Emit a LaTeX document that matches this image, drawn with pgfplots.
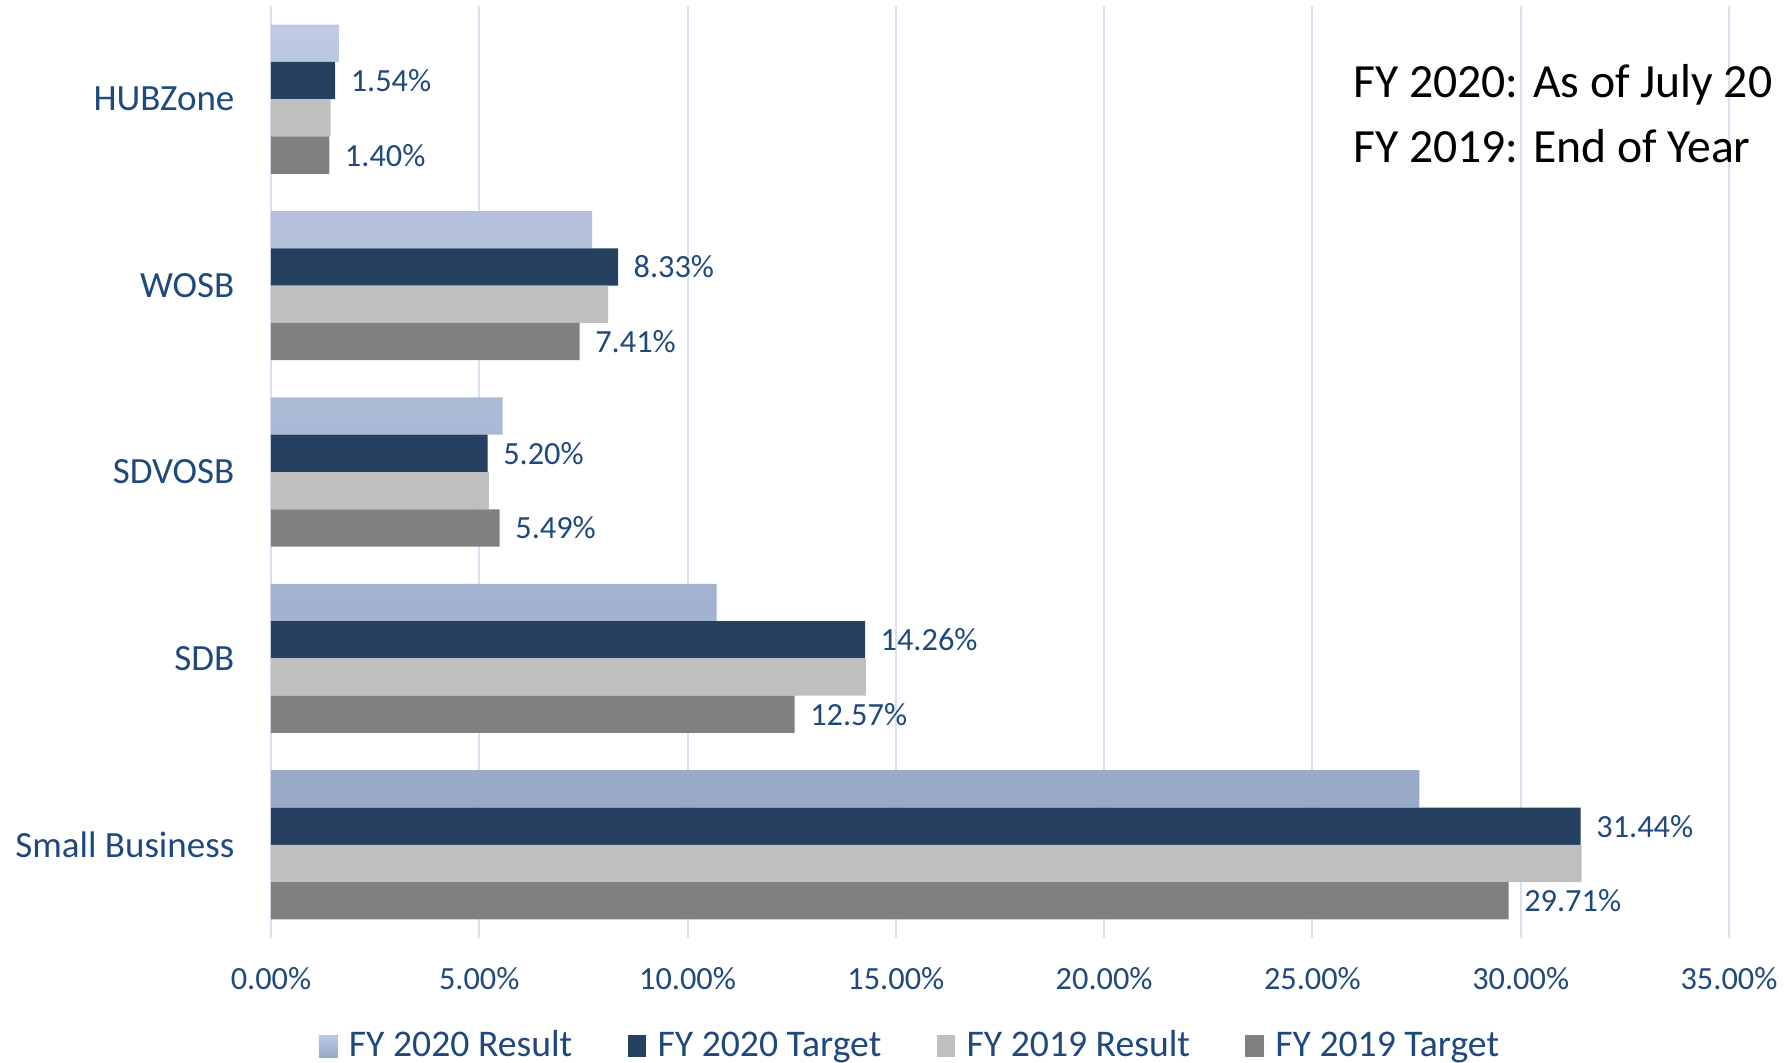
\documentclass[border=0pt]{standalone}
\usepackage{pgfplots}
\pgfplotsset{compat=1.18}
\usepackage{fontspec}
\setmainfont{Carlito}
\definecolor{restop}{RGB}{190,201,227}
\definecolor{resmid}{RGB}{182,196,224}
\definecolor{resbot}{RGB}{152,169,199}
\definecolor{tgt20}{RGB}{38,64,97}
\definecolor{res19}{RGB}{191,191,191}
\definecolor{tgt19}{RGB}{128,128,128}
\definecolor{txtblue}{RGB}{31,73,125}
\definecolor{gridc}{RGB}{214,226,242}
\newcommand{\lblfont}{\fontsize{11.1}{13}\selectfont}
\newcommand{\legfont}{\fontsize{11.3}{13}\selectfont}
\newcommand{\numfont}{\fontsize{9.7}{12}\selectfont}
\begin{document}
\begin{tikzpicture}
\path[use as bounding box] (-81.3pt,-37.2pt) rectangle (456.3pt,281.4pt);
\begin{axis}[
  at={(0,0)}, anchor=south west,
  scale only axis, width=437.4pt, height=279.6pt,
  xbar, bar width=0.2,
  xmin=0, xmax=35, ymin=-0.5, ymax=4.5,
  xtick={0,5,10,15,20,25,30,35},
  xticklabels={0.00\%,5.00\%,10.00\%,15.00\%,20.00\%,25.00\%,30.00\%,35.00\%},
  ytick={0,1,2,3,4},
  yticklabels={Small Business,SDB,SDVOSB,WOSB,HUBZone},
  axis line style={draw=none},
  xmajorgrids=true, ymajorgrids=false,
  major grid style={draw=gridc, line width=0.6pt},
  major tick length=0pt,
  tick label style={text=txtblue},
  xticklabel style={font=\numfont, anchor=base, inner sep=0pt, yshift=-15.3pt},
  yticklabel style={font=\lblfont, anchor=east, inner sep=0pt, xshift=-10.8pt},
  clip=false,
  legend style={at={(0.4376,0)}, anchor=center, yshift=-32.5pt, draw=none, fill=none,
    legend columns=4, font=\legfont, text=txtblue,
    nodes={inner sep=0pt},
    /tikz/every odd column/.append style={column sep=3.4pt},
    /tikz/every even column/.append style={column sep=16.6pt}},
  legend image code/.code={\fill[#1] (0pt,-3.3pt) rectangle (5.6pt,3.4pt);},
  every node near coord/.append style={anchor=west, inner sep=0pt, xshift=4.5pt, font=\numfont, text=txtblue},
  nodes near coords align=horizontal,
]
\addplot[draw=none, top color=restop, middle color=resmid, bottom color=resbot, bar shift=0.3]
  coordinates {(27.57,0) (10.70,1) (5.56,2) (7.71,3) (1.63,4)};
\addlegendentry{FY 2020 Result}
\addplot[draw=none, fill=tgt20, bar shift=0.1, point meta=x,
  nodes near coords={\pgfmathprintnumber[fixed,fixed zerofill,precision=2,assume math mode=true]{\pgfplotspointmeta}\%}]
  coordinates {(31.44,0) (14.26,1) (5.20,2) (8.33,3) (1.54,4)};
\addlegendentry{FY 2020 Target}
\addplot[draw=none, fill=res19, bar shift=-0.1]
  coordinates {(31.46,0) (14.28,1) (5.23,2) (8.09,3) (1.43,4)};
\addlegendentry{FY 2019 Result}
\addplot[draw=none, fill=tgt19, bar shift=-0.3, point meta=x,
  nodes near coords={\pgfmathprintnumber[fixed,fixed zerofill,precision=2,assume math mode=true]{\pgfplotspointmeta}\%}]
  coordinates {(29.71,0) (12.57,1) (5.49,2) (7.41,3) (1.40,4)};
\addlegendentry{FY 2019 Target}
\end{axis}
\node[anchor=base west, inner sep=0pt, font=\fontsize{14.3}{17}\selectfont] at (324.5pt,252pt) {FY 2020: As of July 20};
\node[anchor=base west, inner sep=0pt, font=\fontsize{14.3}{17}\selectfont] at (324.5pt,232.5pt) {FY 2019: End of Year};
\end{tikzpicture}
\end{document}
